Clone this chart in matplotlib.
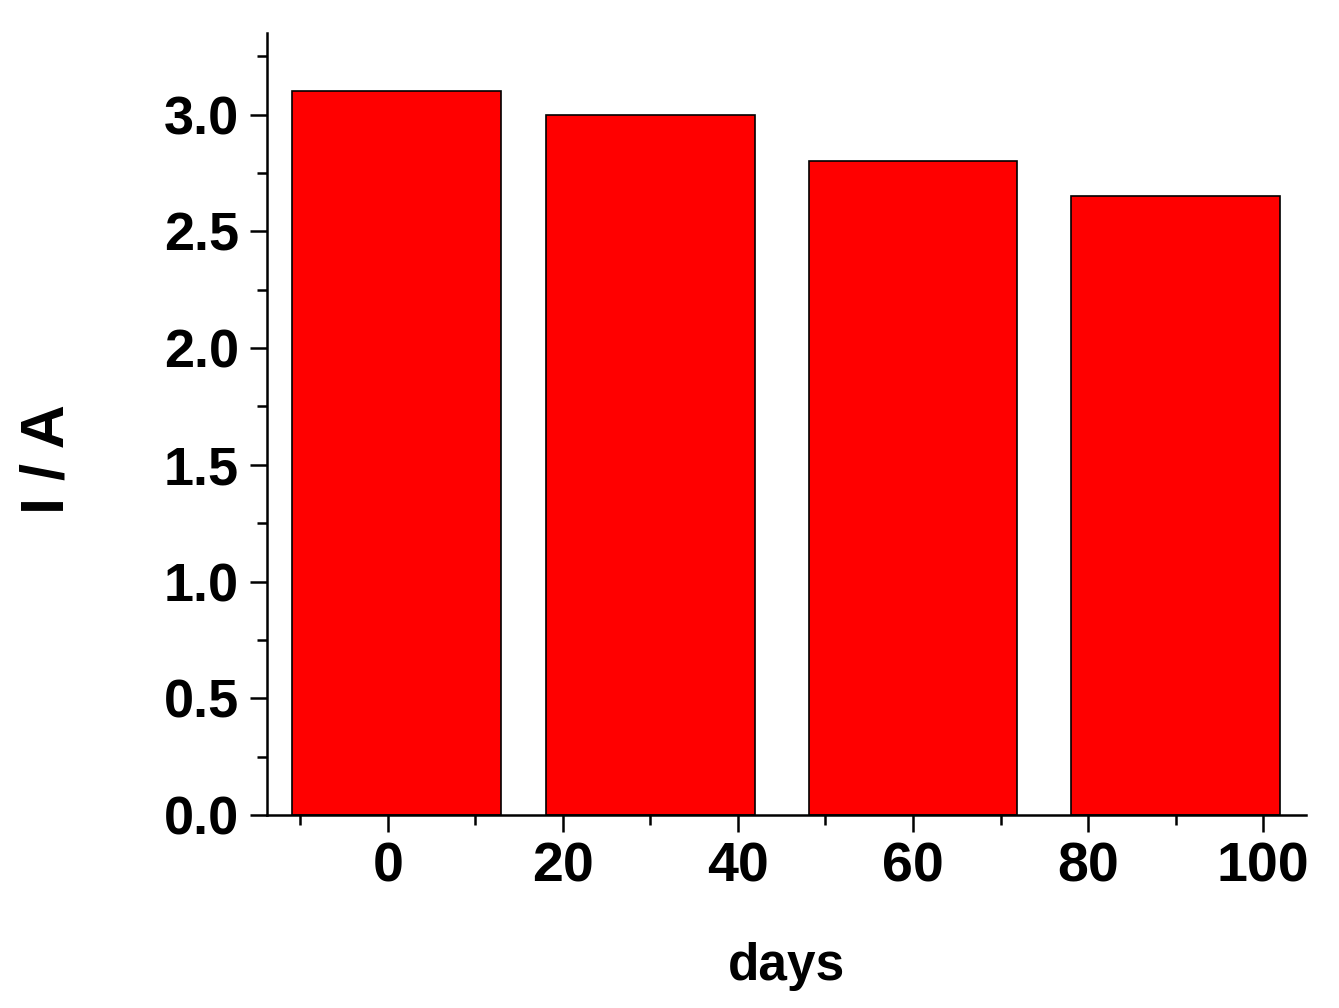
import numpy as np
import matplotlib
matplotlib.use('Agg')
import matplotlib.pyplot as plt
from matplotlib.ticker import MultipleLocator, FormatStrFormatter

plt.rcParams['font.family'] = ['Liberation Sans', 'DejaVu Sans']
plt.rcParams['font.weight'] = 'bold'

# data
days = [1, 30, 60, 90]
current = [3.1, 3.0, 2.8, 2.65]
bar_width = 23.8

fig = plt.figure(figsize=(13.39, 10.08), dpi=100)
ax = fig.add_axes([267/1339, 1 - 815/1008, (1306-267)/1339, (815-33)/1008])

ax.bar(days, current, width=bar_width, color='#ff0000', edgecolor='black', linewidth=1.2)

ax.set_xlim(-13.8, 104.9)
ax.set_ylim(0, 3.35)
ax.xaxis.set_major_locator(MultipleLocator(20))
ax.xaxis.set_minor_locator(MultipleLocator(10))
ax.yaxis.set_major_locator(MultipleLocator(0.5))
ax.yaxis.set_minor_locator(MultipleLocator(0.25))
ax.yaxis.set_major_formatter(FormatStrFormatter('%.1f'))

for s in ['top', 'right']:
    ax.spines[s].set_visible(False)
for s in ['left', 'bottom']:
    ax.spines[s].set_linewidth(1.8)

ax.tick_params(which='major', direction='out', length=12, width=1.8)
ax.tick_params(which='minor', direction='out', length=7, width=1.8)
ax.tick_params(axis='x', which='major', labelsize=40, pad=7)
ax.tick_params(axis='y', which='major', labelsize=39, pad=8)
for lab in ax.get_xticklabels() + ax.get_yticklabels():
    lab.set_fontweight('bold')

ax.set_ylabel('I / A', fontsize=44, fontweight='bold')
ax.yaxis.set_label_coords(-0.183, 0.455)
ax.set_xlabel('days', fontsize=37, fontweight='bold')
ax.xaxis.set_label_coords(0.5, -0.162)

fig.savefig('out.png', dpi=100)
